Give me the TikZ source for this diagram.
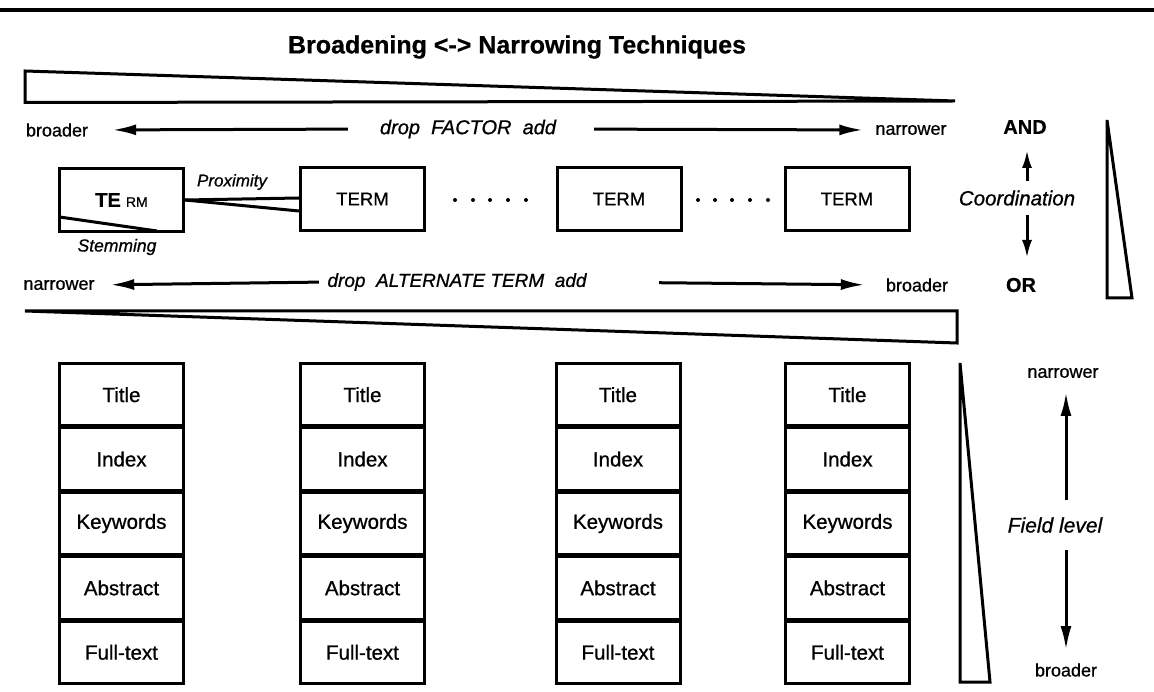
\documentclass[tikz,border=0pt]{standalone}
\usepackage{fontspec}
\setmainfont{Liberation Sans}[UprightFeatures={FakeBold=0.8},ItalicFeatures={FakeBold=0.8},BoldFeatures={FakeBold=0.6}]
\usetikzlibrary{arrows.meta}
\begin{document}
\begin{tikzpicture}[x=1pt,y=-1pt,
  arr/.style={line width=3pt,-{Latex[length=24pt,width=11pt]}},
  sarr/.style={line width=3pt,-{Latex[length=18pt,width=10pt]}},
  lbl/.style={inner sep=0pt, font=\fontsize{18}{18}\selectfont},
  ital/.style={inner sep=0pt, font=\fontsize{#1}{#1}\selectfont\itshape},
  boldlbl/.style={inner sep=0pt, font=\fontsize{#1}{#1}\selectfont\bfseries},
  termbox/.style={draw,line width=3pt,minimum width=124pt,minimum height=63pt,inner sep=0pt,font=\fontsize{18.5}{18.5}\selectfont},
  fieldbox/.style={draw,line width=3pt,minimum width=124pt,minimum height=62.4pt,inner sep=0pt,font=\fontsize{20.5}{20.5}\selectfont},
  wedge/.style={draw,line width=3pt,line join=miter},
  rule/.style={line width=3.5pt}
]
\fill[white] (0,0) rectangle (1154,692);
\useasboundingbox (0,0) rectangle (1154,692);

% top rule
\draw[rule] (0,10) -- (1154,10);

% title
\node[boldlbl=25] (title) at (517,47) {Broadening <-> Narrowing Techniques};

% top wedge
\draw[wedge] (25,71) -- (955,101) -- (25,102.5) -- cycle;

% row 1: drop FACTOR add
\node[lbl] (b1) at (57,130) {broader};
\node[ital=20] (fac) at (468,129) {drop\ \ FACTOR\ \ add};
\node[lbl] (n1) at (911,130) {narrower};
\draw[arr,shorten <=32pt,shorten >=24pt] (fac.west) -- (b1.east);
\draw[arr,shorten <=38pt,shorten >=12pt] (fac.east) -- (n1.west);

% term boxes
\node[termbox] (term1) at (121.5,200) {{\fontsize{20}{20}\selectfont\bfseries TE}\ {\fontsize{14}{14}\selectfont RM}};
\node[termbox] (term2) at (362.5,199) {TERM};
\node[termbox] (term3) at (619,199) {TERM};
\node[termbox] (term4) at (847,199) {TERM};

% proximity
\node[ital=17] (prox) at (232,182) {Proximity};
\draw[line width=3pt] (term1.east) -- ([yshift=1pt]term2.west);
\draw[line width=3pt] (term1.east) -- ([yshift=-12pt]term2.west);

% stemming
\draw[line width=3pt] ([xshift=1.5pt,yshift=-17pt]term1.west) -- (157,231);
\node[ital=17.5] (stem) at (117,247) {Stemming};

% dots
\foreach \x in {455,473,490,508,526,698,715,732,750,768}
  \fill (\x,200) circle (2pt);

% coordination
\node[boldlbl=20] (and) at (1025,127) {AND};
\node[ital=20.5] (coord) at (1017,198) {Coordination};
\node[boldlbl=20] (or) at (1021,285) {OR};
\coordinate (cu0) at (1027,181);
\coordinate (cu1) at (1027,150);
\coordinate (cd0) at (1027,215);
\coordinate (cd1) at (1027,258);
\draw[sarr] (cu0) -- (cu1);
\draw[sarr] (cd0) -- (cd1);
\draw[wedge] (1107,120) -- (1132,298) -- (1107,298) -- cycle;

% row 2: drop ALTERNATE TERM add
\node[lbl] (n2) at (59,285) {narrower};
\node[ital=19] (alt) at (457,282) {drop\ \ ALTERNATE TERM\ \ add};
\node[lbl] (b2) at (917,285) {broader};
\draw[arr,shorten <=8.5pt,shorten >=15.5pt] (alt.west) -- (n2.east);
\draw[arr,shorten <=72.5pt,shorten >=21pt] (alt.east) -- (b2.west);

% bottom wedge
\draw[wedge] (25,311) -- (957,311) -- (957,343) -- cycle;

% field columns
\foreach \cx [count=\c] in {121.5,362.5,618,847.5}{
  \foreach \t [count=\r] in {Title,Index,Keywords,Abstract,Full-text}{
    \node[fieldbox] (f\c-\r) at (\cx,330.3+64.4*\r) {\t};
  }
}

% field level
\node[lbl] (fn) at (1063,373) {narrower};
\node[ital=21] (fl) at (1055,525) {Field level};
\node[lbl] (fb) at (1066,670) {broader};
\coordinate (fu0) at (1066,500);
\coordinate (fu1) at (1066,392);
\coordinate (fd0) at (1066,550);
\coordinate (fd1) at (1066,650);
\draw[arr] (fu0) -- (fu1);
\draw[arr] (fd0) -- (fd1);
\draw[wedge] (960,363) -- (990,682) -- (960,682) -- cycle;
\end{tikzpicture}
\end{document}
